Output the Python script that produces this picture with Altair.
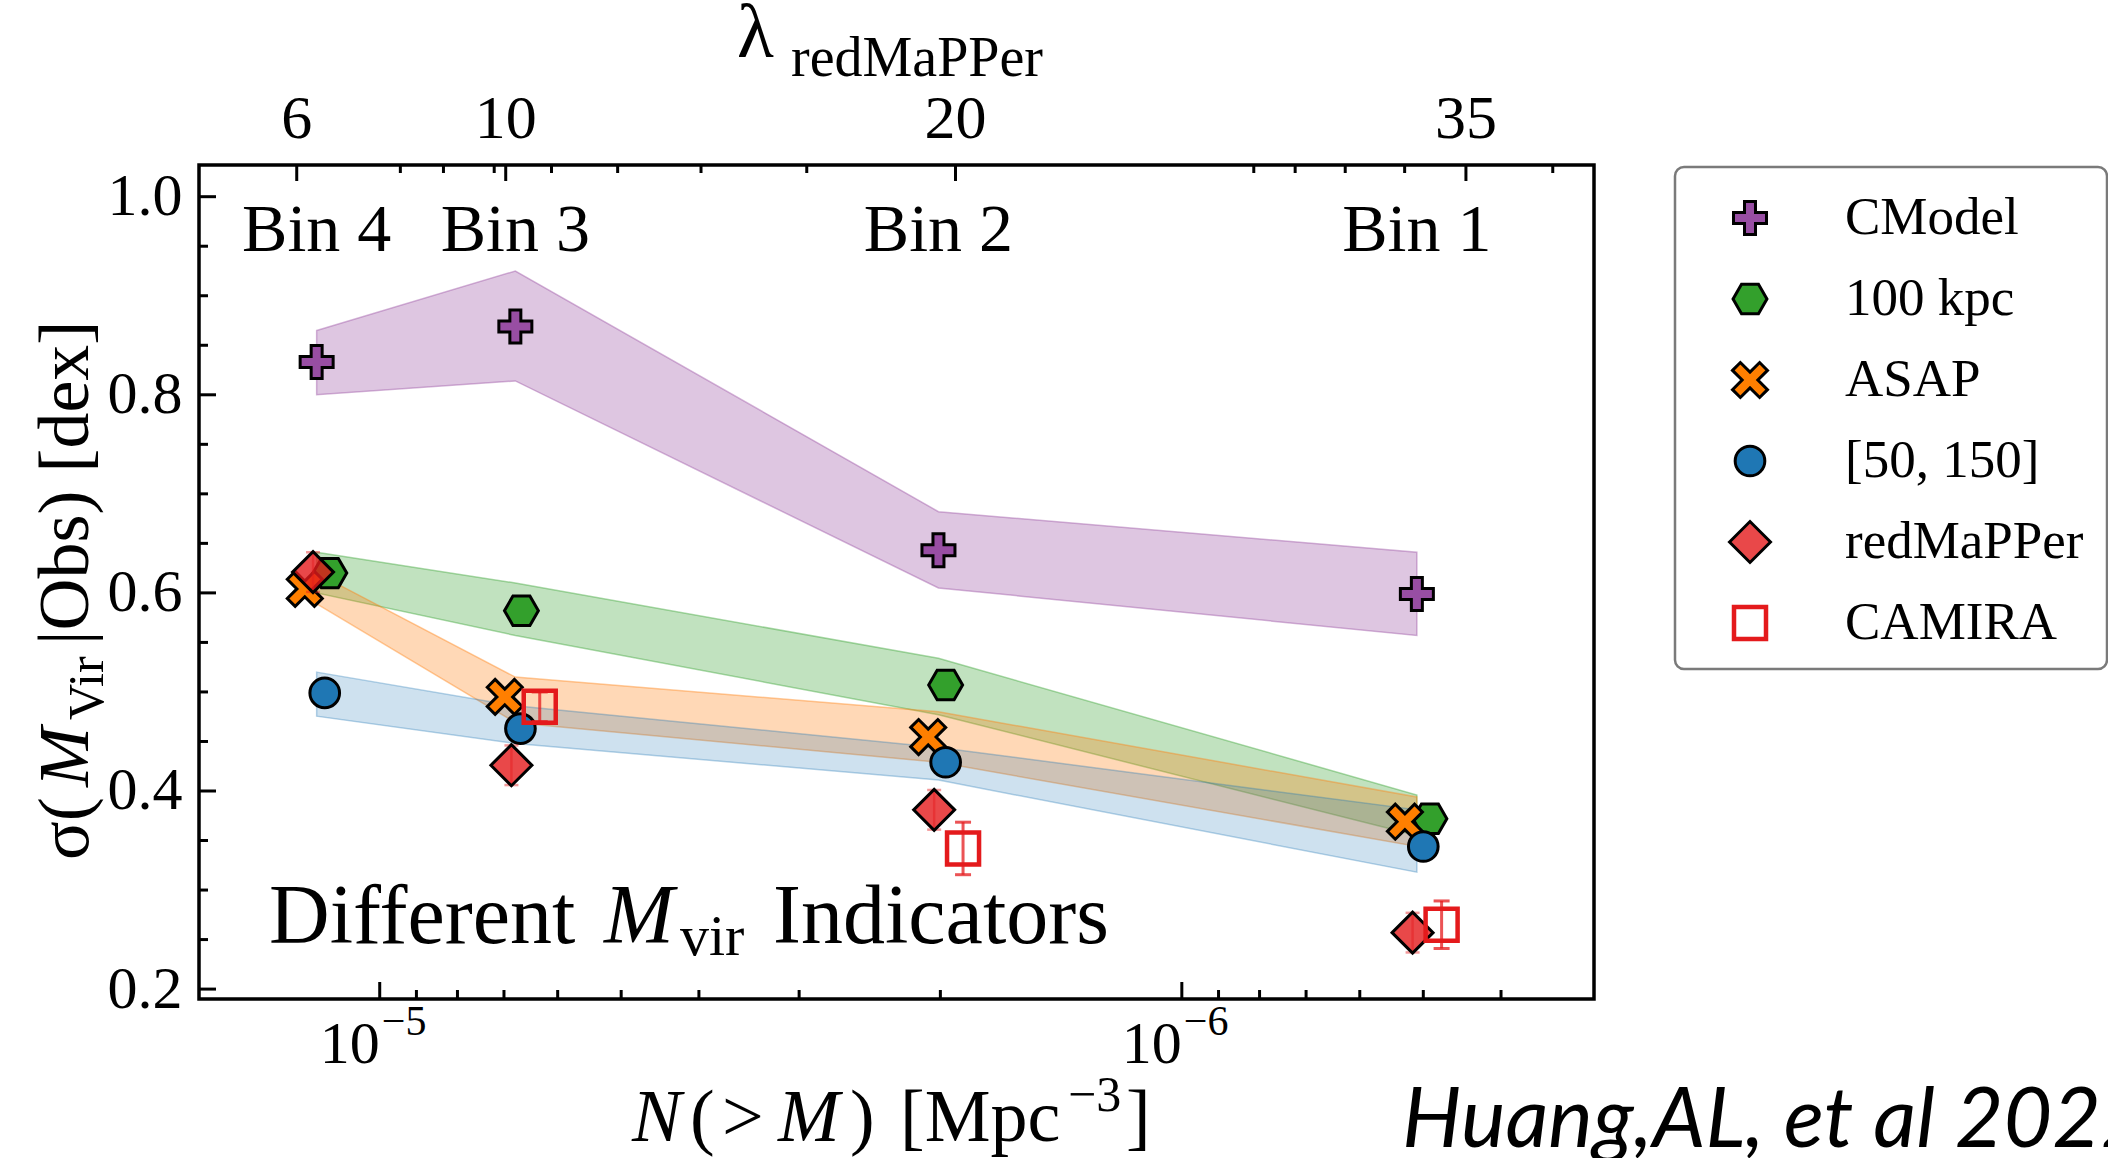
import altair as alt
import pandas as pd

SERIF = "Liberation Serif"

# ---------------- data ----------------
BIN_LABELS = ["Bin 4", "Bin 3", "Bin 2", "Bin 1"]
# number density N(>M) [Mpc^-3] at each bin (bands and CModel markers)
N_BIN = [1.1985e-5, 6.775e-6, 2.011e-6, 5.093e-7]

SIG_CMODEL = [0.833, 0.869, 0.643, 0.599]
LO_CMODEL = [0.800, 0.814, 0.605, 0.557]
HI_CMODEL = [0.865, 0.925, 0.682, 0.641]

N_100KPC = [1.154e-5, 6.658e-6, 1.970e-6, 4.906e-7]
SIG_100KPC = [0.620, 0.582, 0.507, 0.372]
LO_100KPC = [0.600, 0.557, 0.477, 0.355]
HI_100KPC = [0.641, 0.610, 0.534, 0.396]

N_ASAP = [1.240e-5, 6.984e-6, 2.071e-6, 5.271e-7]
SIG_ASAP = [0.604, 0.495, 0.4545, 0.369]
LO_ASAP = [0.589, 0.469, 0.429, 0.344]
HI_ASAP = [0.620, 0.515, 0.480, 0.394]

N_50150 = [1.171e-5, 6.677e-6, 1.970e-6, 5.0e-7]
SIG_50150 = [0.499, 0.463, 0.429, 0.344]
LO_50150 = [0.4755, 0.448, 0.411, 0.318]
HI_50150 = [0.520, 0.486, 0.444, 0.381]

N_REDM = [1.211e-5, 6.852e-6, 2.036e-6, 5.156e-7]
SIG_REDM = [0.621, 0.426, 0.381, 0.257]
ERR_REDM = [0.02, 0.02, 0.02, 0.02]

N_CAMIRA = [6.317e-6, 1.874e-6, 4.744e-7]
SIG_CAMIRA = [0.485, 0.342, 0.265]
ERR_CAMIRA = [0.015, 0.0265, 0.024]

# bottom axis ticks
N_MAJOR = [1e-5, 1e-6]
N_MAJOR_EXP = ["\u22125", "\u22126"]
N_MINOR = [9e-6, 8e-6, 7e-6, 6e-6, 5e-6, 4e-6, 3e-6, 2e-6,
           9e-7, 8e-7, 7e-7, 6e-7, 5e-7, 4e-7]

# top axis: richness lambda_redMaPPer placed at the matching number density
LAMBDA_LABELS = ["6", "10", "20", "35"]
N_LAMBDA_MAJOR = [1.269e-5, 6.965e-6, 1.915e-6, 4.424e-7]
N_LAMBDA_MINOR = [9.425e-6, 8.328e-6, 7.199e-6, 6.107e-6, 5.051e-6, 3.976e-6,
                  2.935e-6, 8.134e-7, 7.223e-7, 6.256e-7, 5.275e-7, 3.448e-7]

# left axis ticks
Y_MAJOR = [0.2, 0.4, 0.6, 0.8, 1.0]
Y_MINOR = [0.25, 0.3, 0.35, 0.45, 0.5, 0.55, 0.65, 0.7, 0.75, 0.85, 0.9, 0.95]

LEGEND_LABELS = ["CModel", "100 kpc", "ASAP", "[50, 150]", "redMaPPer", "CAMIRA"]

# ---------------- styling ----------------
W, H = 1395, 834

PLUS = ("M-1,-0.333L-0.333,-0.333L-0.333,-1L0.333,-1L0.333,-0.333L1,-0.333"
        "L1,0.333L0.333,0.333L0.333,1L-0.333,1L-0.333,0.333L-1,0.333Z")
HEXAGON = "M-1,0L-0.5,-0.866L0.5,-0.866L1,0L0.5,0.866L-0.5,0.866Z"
XSHAPE = ("M-1,-0.55L-0.55,-1L0,-0.45L0.55,-1L1,-0.55L0.45,0L1,0.55L0.55,1"
          "L0,0.45L-0.55,1L-1,0.55L-0.45,0Z")

STYLE = {
    "CModel": dict(shape=PLUS, size=1089, fill="#984ea3"),
    "100 kpc": dict(shape=HEXAGON, size=1150, fill="#33a02c"),
    "ASAP": dict(shape=XSHAPE, size=1225, fill="#ff7f00"),
    "[50, 150]": dict(shape="circle", size=880, fill="#1f77b4"),
    "redMaPPer": dict(shape="diamond", size=1681, fill="#e41a1c", fillOpacity=0.8),
}
CAMIRA_RED = "#e41a1c"

x_scale = alt.Scale(type="log", domain=[3.063e-7, 1.680e-5], reverse=True, nice=False)
y_scale = alt.Scale(domain=[0.19, 1.032], nice=False, zero=False)
Y_AXIS = alt.Axis(values=Y_MAJOR, format=".1f", ticks=False, domain=False, grid=False,
                  labelFont=SERIF, labelFontSize=60, labelColor="black",
                  labelPadding=17, title=None)


def X(field="n"):
    return alt.X(f"{field}:Q", scale=x_scale, axis=None)


def Y(field):
    return alt.Y(f"{field}:Q", scale=y_scale, axis=Y_AXIS)


def band(lo, hi, color, alpha):
    df = pd.DataFrame({"n": N_BIN, "lo": lo, "hi": hi})
    return alt.Chart(df).mark_area(
        fill=color, fillOpacity=alpha, stroke=color, strokeOpacity=alpha + 0.1,
        strokeWidth=1.5, interpolate="linear"
    ).encode(x=X(), y=Y("hi"), y2="lo:Q")


def points(n, s, name):
    st = STYLE[name]
    df = pd.DataFrame({"n": n, "s": s})
    return alt.Chart(df).mark_point(
        shape=st["shape"], size=st["size"], filled=True, fill=st["fill"],
        fillOpacity=st.get("fillOpacity", 1), stroke="black", strokeWidth=3, opacity=1
    ).encode(x=X(), y=Y("s"))


def errbars(n, s, err, color, opacity, width, cap):
    df = pd.DataFrame({"n": n,
                       "lo": [a - b for a, b in zip(s, err)],
                       "hi": [a + b for a, b in zip(s, err)]})
    base = alt.Chart(df)
    stem = base.mark_rule(color=color, opacity=opacity, strokeWidth=width).encode(
        x=X(), y=Y("lo"), y2="hi:Q")
    caps = [base.mark_rule(color=color, opacity=opacity, strokeWidth=width,
                           xOffset=-cap, x2Offset=cap).encode(x=X(), x2="n:Q", y=Y(f))
            for f in ("lo", "hi")]
    return [stem] + caps


def xticks(values, y0, y1):
    df = pd.DataFrame({"n": values})
    return alt.Chart(df).mark_rule(color="black", strokeWidth=3).encode(
        x=X(), y=alt.value(y0), y2=alt.value(y1))


def yticks(values, length):
    df = pd.DataFrame({"v": values})
    return alt.Chart(df).mark_rule(color="black", strokeWidth=3).encode(
        y=Y("v"), x=alt.value(0), x2=alt.value(length))


def text(t, x, y, size, style="normal", align="left", angle=0, font=SERIF):
    df = pd.DataFrame({"t": [t]})
    kw = dict(font=font, fontSize=size, fontStyle=style, align=align,
              baseline="alphabetic", color="black")
    if angle:
        kw["angle"] = angle
    return alt.Chart(df).mark_text(**kw).encode(
        text="t:N", x=alt.value(x), y=alt.value(y))


layers = []

# uncertainty bands
layers.append(band(LO_CMODEL, HI_CMODEL, "#984ea3", 0.32))
layers.append(band(LO_100KPC, HI_100KPC, "#33a02c", 0.3))
layers.append(band(LO_ASAP, HI_ASAP, "#ff7f0e", 0.3))
layers.append(band(LO_50150, HI_50150, "#1f77b4", 0.22))

# markers
layers.append(points(N_BIN, SIG_CMODEL, "CModel"))
layers.append(points(N_100KPC, SIG_100KPC, "100 kpc"))
layers.append(points(N_ASAP, SIG_ASAP, "ASAP"))
layers.append(points(N_50150, SIG_50150, "[50, 150]"))
layers += errbars(N_REDM, SIG_REDM, ERR_REDM, "#e41a1c", 0.45, 2.5, 7)
layers.append(points(N_REDM, SIG_REDM, "redMaPPer"))
layers += errbars(N_CAMIRA, SIG_CAMIRA, ERR_CAMIRA, CAMIRA_RED, 0.75, 3, 8)
layers.append(alt.Chart(pd.DataFrame({"n": N_CAMIRA, "s": SIG_CAMIRA})).mark_point(
    shape="square", size=1024, filled=False, stroke=CAMIRA_RED, strokeWidth=4.5, opacity=1
).encode(x=X(), y=Y("s")))

# bin names
layers.append(alt.Chart(pd.DataFrame({"n": N_BIN, "t": BIN_LABELS})).mark_text(
    font=SERIF, fontSize=68, align="center", baseline="alphabetic", color="black"
).encode(x=X(), y=alt.value(86), text="t:N"))

# inward ticks on left, bottom and top
layers.append(yticks(Y_MAJOR, 17))
layers.append(yticks(Y_MINOR, 9))
layers.append(xticks(N_MAJOR, H, H - 17))
layers.append(xticks(N_MINOR, H, H - 9))
layers.append(xticks(N_LAMBDA_MAJOR, 0, 16))
layers.append(xticks(N_LAMBDA_MINOR, 0, 8))

# bottom tick labels 10^-5, 10^-6
layers.append(alt.Chart(pd.DataFrame({"n": N_MAJOR, "t": ["10", "10"]})).mark_text(
    font=SERIF, fontSize=60, align="right", baseline="alphabetic", color="black"
).encode(x=X(), y=alt.value(898), text="t:N"))
layers.append(alt.Chart(pd.DataFrame({"n": N_MAJOR, "t": N_MAJOR_EXP})).mark_text(
    font=SERIF, fontSize=42, align="left", baseline="alphabetic", color="black", dx=2
).encode(x=X(), y=alt.value(870), text="t:N"))

# top tick labels (richness)
layers.append(alt.Chart(pd.DataFrame({"n": N_LAMBDA_MAJOR, "t": LAMBDA_LABELS})).mark_text(
    font=SERIF, fontSize=62, align="center", baseline="alphabetic", color="black"
).encode(x=X(), y=alt.value(-27), text="t:N"))

# top axis title: lambda_redMaPPer
layers.append(text("\u03bb", 538, -108, 76))
layers.append(text("redMaPPer", 592, -89, 56))

# bottom axis title: N(>M) [Mpc^-3]
XT = 976
layers.append(text("N", 433, XT, 74, style="italic"))
layers.append(text("(", 491, XT, 74))
layers.append(text(">", 523, XT, 74))
layers.append(text("M", 579, XT, 74, style="italic"))
layers.append(text(")", 651, XT, 74))
layers.append(text("[Mpc", 701, XT, 74))
layers.append(text("\u22123", 869, XT - 30, 50))
layers.append(text("]", 927, XT, 74))

# left axis title: sigma(M_Vir | Obs) [dex], rotated
YB = -111
layers.append(text("\u03c3(", YB, 695, 72, angle=270))
layers.append(text("M", YB, 622, 72, style="italic", angle=270))
layers.append(text("Vir", YB + 15, 555, 50, angle=270))
layers.append(text("|Obs) [dex]", YB, 480, 72, angle=270))

# in-panel annotation
layers.append(text("Different", 70, 778, 84))
layers.append(text("M", 405, 778, 84, style="italic"))
layers.append(text("vir", 481, 790, 58))
layers.append(text("Indicators", 574, 778, 84))

# citation (runs past the right edge)
layers.append(text("Huang,AL, et al 2022", 1203, 982, 84, style="italic", font="Lato"))

# legend
LX, LY0, LDY = 1551, 53, 81
layers.append(alt.Chart(pd.DataFrame({"a": [0]})).mark_rect(
    fill="white", stroke="#7a7a7a", strokeWidth=2.5, cornerRadius=9
).encode(x=alt.value(1476), x2=alt.value(1908), y=alt.value(2), y2=alt.value(504)))
for i, name in enumerate(LEGEND_LABELS):
    yy = LY0 + LDY * i
    dummy = pd.DataFrame({"a": [0]})
    if name in STYLE:
        st = STYLE[name]
        mk = alt.Chart(dummy).mark_point(
            shape=st["shape"], size=st["size"], filled=True, fill=st["fill"],
            fillOpacity=st.get("fillOpacity", 1), stroke="black", strokeWidth=3, opacity=1)
    else:
        mk = alt.Chart(dummy).mark_point(
            shape="square", size=1024, filled=False, stroke=CAMIRA_RED,
            strokeWidth=4.5, opacity=1)
    layers.append(mk.encode(x=alt.value(LX), y=alt.value(yy)))
    layers.append(alt.Chart(pd.DataFrame({"t": [name]})).mark_text(
        font=SERIF, fontSize=53, align="left", baseline="middle", color="black"
    ).encode(text="t:N", x=alt.value(1646), y=alt.value(yy)))

chart = alt.layer(*layers).properties(
    width=W, height=H,
    padding={"left": 199, "top": 165, "right": 514, "bottom": 159},
    autosize=alt.AutoSizeParams(type="none"),
).configure(background="white").configure_view(stroke="black", strokeWidth=3.5)

chart.save("out.html", embed_options={"renderer": "svg", "actions": False})
